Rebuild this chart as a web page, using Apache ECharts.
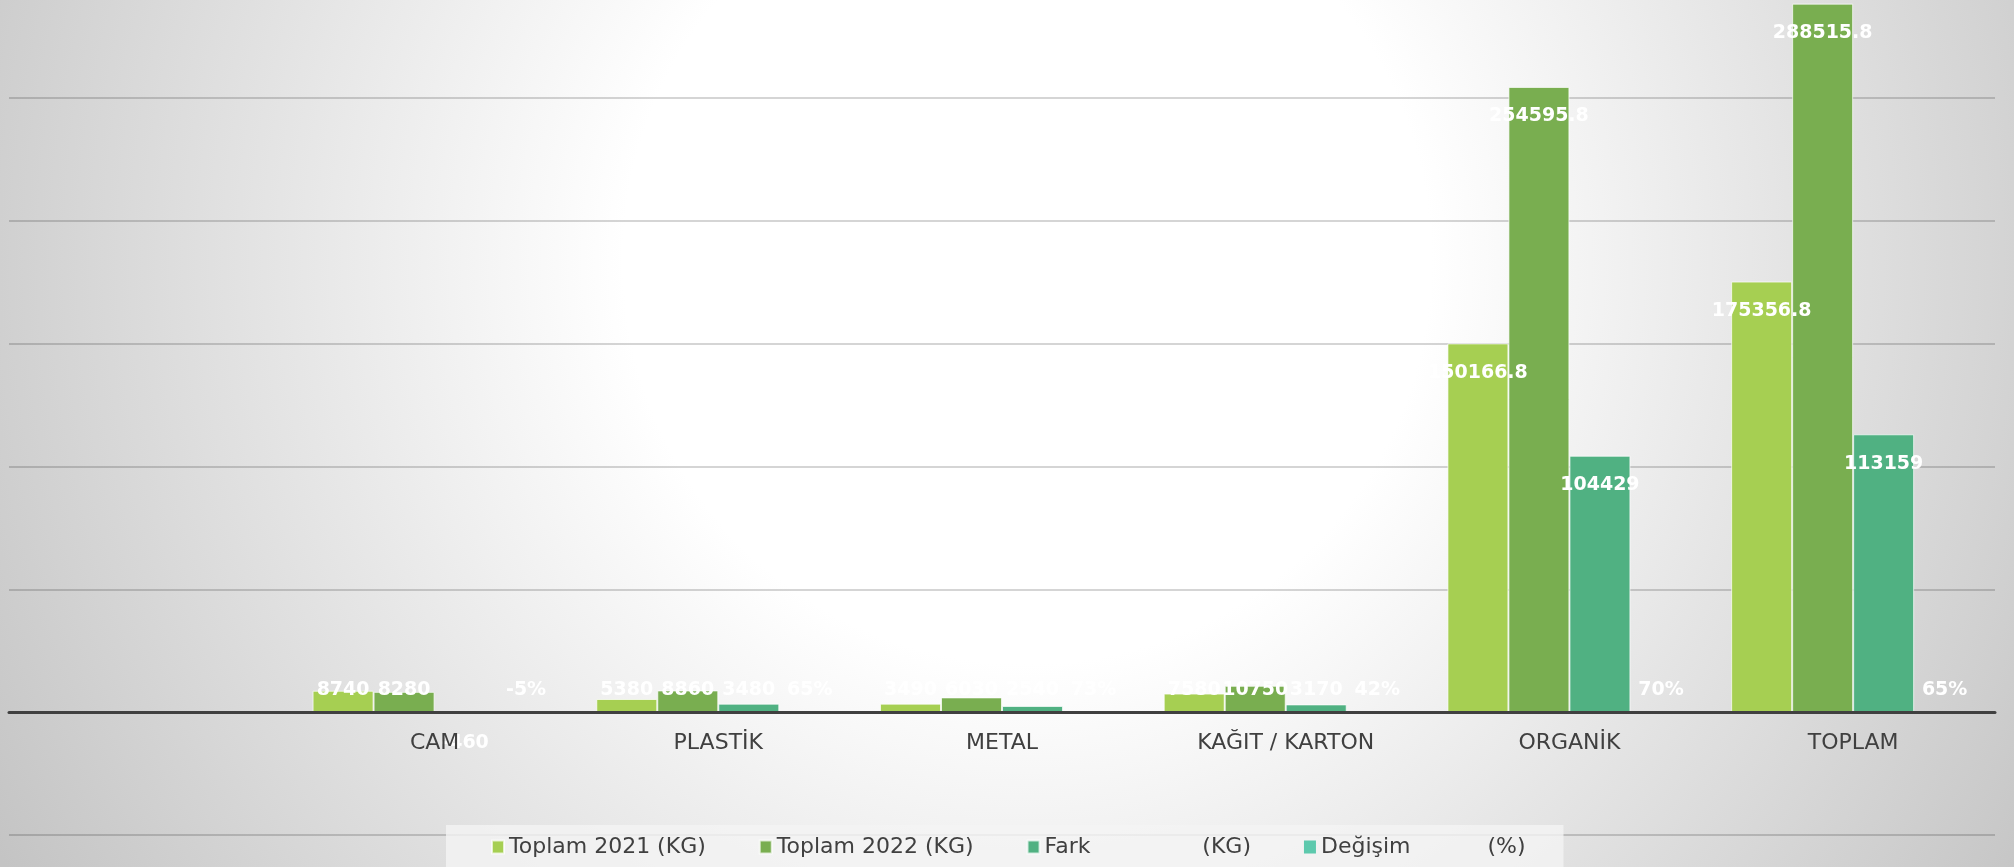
<!DOCTYPE html>
<html>
<head>
<meta charset="utf-8">
<title>Atık Miktarları 2021 / 2022</title>
<script src="https://cdn.jsdelivr.net/npm/echarts@6/dist/echarts.min.js"></script>
<style>
  html, body { margin: 0; padding: 0; }
  #chart { width: 2014px; height: 867px; }
</style>
</head>
<body>
<div id="chart"></div>
<script>
// kategoriler (ilk bant boş, referansta da boş duruyor)
const categories = ['', 'CAM', 'PLASTİK', 'METAL', 'KAĞIT / KARTON', 'ORGANİK', 'TOPLAM']

const toplam2021 = [null, 8740, 5380, 3490, 7580, 150166.8, 175356.8]
const toplam2022 = [null, 8280, 8860, 6030, 10750, 254595.8, 288515.8]
const fark = [null, -460, 3480, 2540, 3170, 104429, 113159]
const degisim = [null, -0.05, 0.65, 0.73, 0.42, 0.70, 0.65]

const seriesNames = [
  'Toplam 2021 (KG)',
  'Toplam 2022 (KG)',
  'Fark                (KG)',
  'Değişim           (%)'
]
const colors = ['#a6cf52', '#79ae50', '#50b182', '#5dc9ad']

const chart = echarts.init(document.getElementById('chart'))

// etiket konumu: uzun çubukta içeride üstte, kısa çubukta tabanın hemen üstünde
function buildData(values, isPercent) {
  return values.map(v => {
    if (v === null) return null
    let label
    if (!isPercent && v >= 30000) {
      label = { position: 'insideTop', distance: 20 }
    } else if (!isPercent && v < 0) {
      label = { position: 'bottom', distance: 20 }
    } else {
      label = { position: 'insideBottom', distance: 13 }
    }
    return { value: v, label: label }
  })
}

function makeSeries(i, values, isPercent) {
  return {
    name: seriesNames[i],
    type: 'bar',
    barGap: '0%',
    barCategoryGap: '14%',
    data: buildData(values, isPercent),
    itemStyle: {
      color: colors[i],
      borderColor: 'rgba(255,255,255,0.7)',
      borderWidth: isPercent ? 0 : 1
    },
    label: {
      show: true,
      color: '#ffffff',
      fontFamily: 'DejaVu Sans',
      fontWeight: 'bold',
      fontSize: 19,
      formatter: isPercent
        ? p => Math.round(p.value * 100) + '%'
        : p => String(p.value)
    }
  }
}

const option = {
  backgroundColor: {
    type: 'radial',
    x: 0.51,
    y: 0.3,
    r: 1.37,
    colorStops: [
      { offset: 0, color: '#ffffff' },
      { offset: 0.34, color: '#ffffff' },
      { offset: 1, color: '#c4c4c4' }
    ]
  },
  animation: false,
  grid: {
    left: 9,
    right: 19,
    top: 0,
    bottom: 32,
    containLabel: false
  },
  legend: {
    left: 446,
    top: 825,
    padding: [11, 38, 9, 45],
    backgroundColor: 'rgba(244,244,244,0.8)',
    icon: 'rect',
    itemWidth: 12,
    itemHeight: 13,
    itemGap: 53,
    textStyle: {
      color: '#404040',
      fontFamily: 'DejaVu Sans',
      fontSize: 22
    },
    data: seriesNames
  },
  xAxis: {
    type: 'category',
    data: categories,
    z: 5,
    axisTick: { show: false },
    axisLine: {
      onZero: true,
      lineStyle: { color: '#404040', width: 3 }
    },
    axisLabel: {
      color: '#404040',
      fontFamily: 'DejaVu Sans',
      fontSize: 22,
      margin: -103
    }
  },
  yAxis: {
    type: 'value',
    min: -50000,
    max: 290000,
    interval: 50000,
    axisLabel: { show: false },
    axisLine: { show: false },
    axisTick: { show: false },
    splitLine: {
      showMaxLine: false,
      lineStyle: { color: 'rgba(0,0,0,0.22)', width: 1.5 }
    }
  },
  series: [
    makeSeries(0, toplam2021, false),
    makeSeries(1, toplam2022, false),
    makeSeries(2, fark, false),
    makeSeries(3, degisim, true)
  ]
}

chart.setOption(option)
</script>
</body>
</html>
